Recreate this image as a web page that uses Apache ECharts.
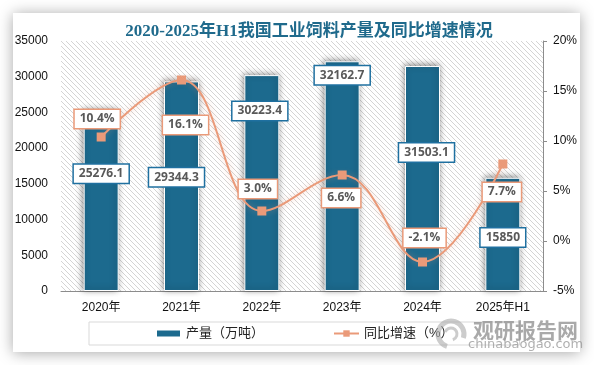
<!DOCTYPE html>
<html>
<head>
<meta charset="utf-8">
<script src="https://cdn.jsdelivr.net/npm/echarts@6/dist/echarts.min.js"></script>
<style>
html,body{margin:0;padding:0;background:#fff;}
#main{width:594px;height:365px;}
</style>
</head>
<body>
<div id="main"></div>
<script>
// ---- data ----
var categories = ['2020年', '2021年', '2022年', '2023年', '2024年', '2025年H1'];
var production = [25276.1, 29344.3, 30223.4, 32162.7, 31503.1, 15850];
var growth = [10.4, 16.1, 3.0, 6.6, -2.1, 7.7];
var leftAxisRange = [0, 35000, 5000];
var rightAxisRange = [-5, 20, 5];
var seriesNames = ['产量（万吨）', '同比增速（%）'];
var titleText = '2020-2025年H1我国工业饲料产量及同比增速情况';

// ---- layout (label nudges, px) ----
var barLabelOffsets = [[0, -27], [-5, -9], [-2, -72], [0, -101], [4, -26], [0, 3]];
var lineLabelOffsets = [[-4, -18], [4, 45], [-4, -22], [-1, 23], [2, -24], [-1, 28]];

var BAR = '#1C6A8E';
var LINE = '#EA9A79';
var FONT = '"Liberation Sans", "Noto Sans CJK SC", sans-serif';

// hatch pattern
var pc = document.createElement('canvas');
pc.width = 5; pc.height = 5;
var ctx = pc.getContext('2d');
ctx.fillStyle = '#ffffff';
ctx.fillRect(0, 0, 5, 5);
ctx.strokeStyle = '#d4d4d4';
ctx.lineWidth = 1;
ctx.beginPath();
ctx.moveTo(-1, -1); ctx.lineTo(6, 6);
ctx.moveTo(-1, 4); ctx.lineTo(1, 6);
ctx.moveTo(4, -1); ctx.lineTo(6, 1);
ctx.stroke();

var chart = echarts.init(document.getElementById('main'), null, {renderer: 'canvas'});

var option = {
  animation: false,
  backgroundColor: '#ffffff',
  title: {
    text: titleText,
    left: 304, top: 18, textAlign: 'center',
    textStyle: {
      fontFamily: '"Liberation Serif", "Noto Sans CJK SC", serif',
      fontSize: 17, fontWeight: 'bold', color: '#1F6A8C'
    }
  },
  graphic: [
    {
      type: 'rect', z: -10,
      shape: {x: 13, y: 13, width: 567, height: 339},
      style: {fill: '#ffffff', shadowBlur: 14, shadowColor: 'rgba(0,0,0,0.35)', shadowOffsetX: 0, shadowOffsetY: 1},
      silent: true
    },
    {
      type: 'text', z: 100, left: 473, top: 320,
      style: {text: '观研报告网', font: 'bold 21px "Noto Sans CJK SC", sans-serif', fill: 'rgba(140,140,140,0.75)'}
    },
    {
      type: 'text', z: 100, left: 468, top: 338,
      style: {text: 'chinabaogao.com', font: '13px "DejaVu Sans", sans-serif', fill: 'rgba(150,150,150,0.75)'}
    },
    {
      type: 'arc', z: 99,
      shape: {cx: 451, cy: 334, r: 13, startAngle: Math.PI * 0.6, endAngle: Math.PI * 2.1},
      style: {stroke: 'rgba(170,170,170,0.6)', lineWidth: 5, fill: null}
    },
    {
      type: 'arc', z: 99,
      shape: {cx: 451, cy: 334, r: 6, startAngle: Math.PI * 1.1, endAngle: Math.PI * 2.4},
      style: {stroke: 'rgba(170,170,170,0.6)', lineWidth: 3, fill: null}
    }
  ],
  legend: {
    left: 89, top: 322,
    padding: [5, 66, 5, 66],
    borderColor: '#d9d9d9', borderWidth: 1,
    itemGap: 69,
    itemWidth: 25, itemHeight: 8,
    textStyle: {fontFamily: FONT, fontSize: 13, color: '#222'},
    data: [
      {name: seriesNames[0], icon: 'rect'},
      {name: seriesNames[1]}
    ]
  },
  grid: {
    left: 61, right: 51, top: 41, bottom: 74,
    show: true, borderWidth: 0,
    backgroundColor: {image: pc, repeat: 'repeat'}
  },
  xAxis: {
    type: 'category',
    data: categories,
    axisLine: {show: true, lineStyle: {color: '#8c8c8c', width: 1}},
    axisTick: {show: false},
    axisLabel: {fontFamily: FONT, fontSize: 12, color: '#111', margin: 11, interval: 0}
  },
  yAxis: [
    {
      type: 'value',
      min: leftAxisRange[0], max: leftAxisRange[1], interval: leftAxisRange[2],
      axisLine: {show: false}, axisTick: {show: false},
      splitLine: {show: false},
      axisLabel: {fontFamily: FONT, fontSize: 12, color: '#111', margin: 13,
        formatter: function (v) { return String(v); }}
    },
    {
      type: 'value',
      min: rightAxisRange[0], max: rightAxisRange[1], interval: rightAxisRange[2],
      axisLine: {show: true, lineStyle: {color: '#8c8c8c'}},
      axisTick: {show: true, length: 4, lineStyle: {color: '#8c8c8c'}},
      splitLine: {show: false},
      axisLabel: {fontFamily: FONT, fontSize: 12, color: '#111', margin: 10, formatter: '{value}%'}
    }
  ],
  series: [
    {
      name: seriesNames[0],
      type: 'bar',
      barWidth: 35,
      yAxisIndex: 0,
      itemStyle: {
        color: BAR, borderColor: '#ffffff', borderWidth: 1,
        shadowColor: 'rgba(0,0,0,0.45)', shadowBlur: 6, shadowOffsetX: -1, shadowOffsetY: -1
      },
      label: {
        show: true, position: 'inside',
        fontFamily: '"Open Sans", "DejaVu Sans", sans-serif', fontSize: 12, fontWeight: 'bold',
        color: '#595959', backgroundColor: '#ffffff',
        borderColor: '#1F70A0', borderWidth: 1.5, padding: [3, 5, 3, 5]
      },
      data: production.map(function (v, i) {
        return {value: v, label: {offset: barLabelOffsets[i]}};
      })
    },
    {
      name: seriesNames[1],
      type: 'line',
      yAxisIndex: 1,
      smooth: 0.4,
      symbol: 'rect', symbolSize: 9,
      z: 5,
      lineStyle: {color: LINE, width: 2, shadowColor: 'rgba(234,154,121,0.45)', shadowBlur: 6},
      itemStyle: {color: LINE},
      label: {
        show: true, position: 'inside',
        fontFamily: '"Open Sans", "DejaVu Sans", sans-serif', fontSize: 12, fontWeight: 'bold',
        color: '#595959', backgroundColor: '#ffffff',
        borderColor: LINE, borderWidth: 1.5, padding: [3, 5, 3, 5],
        formatter: function (p) { return p.value.toFixed(1) + '%'; }
      },
      data: growth.map(function (v, i) {
        return {value: v, label: {offset: lineLabelOffsets[i]}};
      })
    }
  ]
};
chart.setOption(option);
</script>
</body>
</html>
